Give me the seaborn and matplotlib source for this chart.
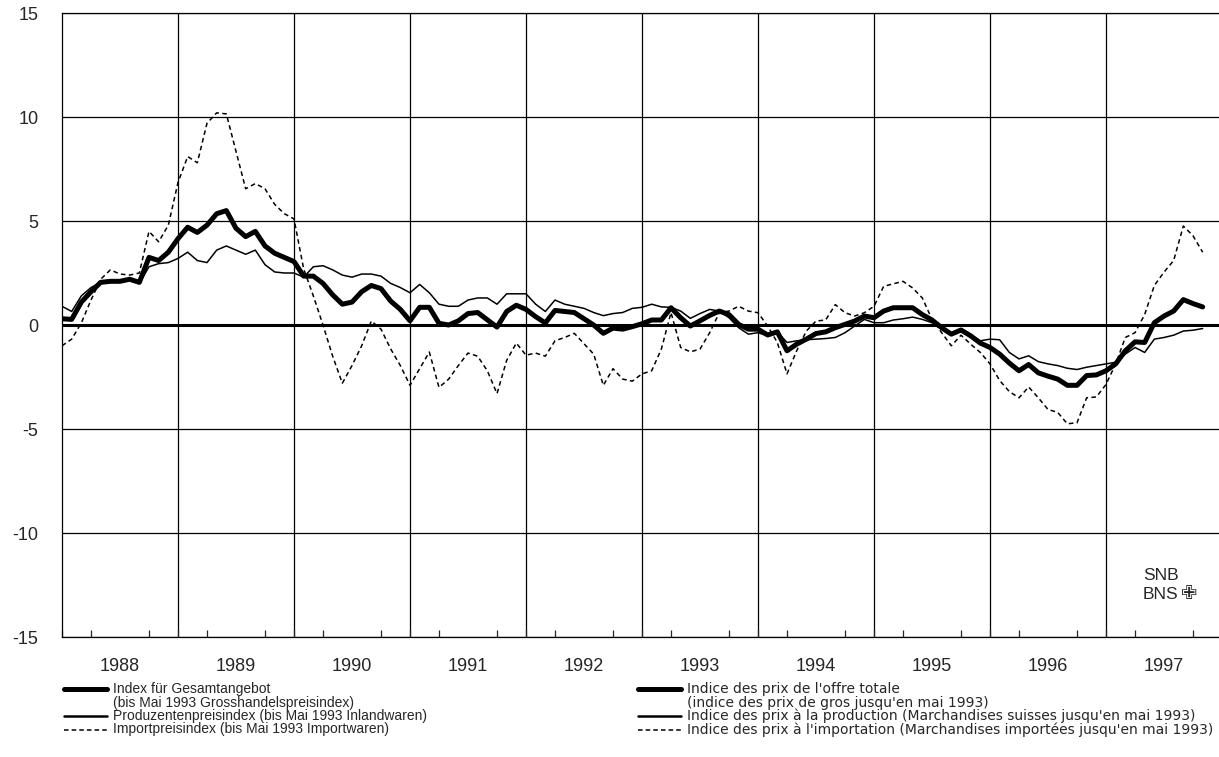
import numpy as np
import pandas as pd
import matplotlib
matplotlib.use("Agg")
import matplotlib.pyplot as plt
import seaborn as sns
from matplotlib.lines import Line2D

# monthly year-on-year changes in %, Jan 1988 .. Nov 1997
gesamtangebot = [
    0.30, 0.27, 1.1, 1.6, 2.05, 2.1, 2.1, 2.2, 2.05, 3.25, 3.1, 3.5,
    4.15, 4.7, 4.45, 4.8, 5.35, 5.5, 4.65, 4.25, 4.5, 3.8, 3.45, 3.25,
    3.05, 2.35, 2.35, 2.0, 1.45, 1.0, 1.1, 1.6, 1.9, 1.75, 1.15, 0.75,
    0.2, 0.85, 0.85, 0.08, 0.0, 0.2, 0.55, 0.6, 0.25, -0.1, 0.65, 0.95,
    0.75, 0.4, 0.1, 0.7, 0.65, 0.6, 0.3, 0.0, -0.4, -0.15, -0.2, -0.08,
    0.06, 0.24, 0.24, 0.83, 0.35, -0.05, 0.2, 0.46, 0.67, 0.5, 0.03, -0.2,
    -0.2, -0.48, -0.33, -1.24, -0.92, -0.68, -0.41, -0.33, -0.13, 0.03, 0.19, 0.43,
    0.35, 0.67, 0.83, 0.83, 0.83, 0.5, 0.24, -0.13, -0.44, -0.24, -0.52, -0.87,
    -1.08, -1.4, -1.83, -2.2, -1.9, -2.3, -2.46, -2.6, -2.9, -2.9, -2.43, -2.4,
    -2.2, -1.87, -1.24, -0.81, -0.84, 0.11, 0.43, 0.67, 1.22, 1.03, 0.87,
]
produzenten = [
    0.9, 0.65, 1.4, 1.8, 2.05, 2.05, 2.1, 2.2, 2.0, 2.8, 2.95, 3.0,
    3.2, 3.5, 3.1, 3.0, 3.6, 3.8, 3.6, 3.4, 3.6, 2.9, 2.55, 2.5,
    2.5, 2.3, 2.8, 2.85, 2.65, 2.4, 2.3, 2.45, 2.45, 2.35, 2.0, 1.8,
    1.55, 1.95, 1.55, 1.0, 0.9, 0.9, 1.2, 1.3, 1.3, 1.0, 1.5, 1.5,
    1.5, 1.0, 0.65, 1.2, 1.0, 0.9, 0.8, 0.6, 0.45, 0.55, 0.6, 0.8,
    0.85, 1.0, 0.87, 0.85, 0.67, 0.32, 0.55, 0.75, 0.67, 0.35, -0.13, -0.44,
    -0.37, -0.52, -0.33, -0.84, -0.76, -0.71, -0.68, -0.65, -0.6, -0.37, -0.05, 0.27,
    0.11, 0.11, 0.24, 0.3, 0.38, 0.27, 0.11, -0.17, -0.37, -0.25, -0.48, -0.76,
    -0.68, -0.71, -1.32, -1.63, -1.48, -1.76, -1.87, -1.95, -2.08, -2.14, -2.03, -1.95,
    -1.87, -1.79, -1.4, -1.08, -1.32, -0.68, -0.6, -0.49, -0.29, -0.25, -0.17,
]
import_idx = [
    -1.0, -0.68, 0.1, 1.2, 2.2, 2.65, 2.45, 2.4, 2.5, 4.5, 4.0, 4.8,
    6.85, 8.1, 7.8, 9.7, 10.2, 10.15, 8.35, 6.55, 6.8, 6.55, 5.8, 5.35,
    5.1, 2.7, 1.4, 0.0, -1.5, -2.8, -1.95, -1.0, 0.19, -0.2, -1.15, -1.95,
    -2.9, -2.1, -1.3, -3.0, -2.6, -1.95, -1.35, -1.5, -2.2, -3.3, -1.7, -0.87,
    -1.45, -1.35, -1.5, -0.76, -0.6, -0.4, -0.9, -1.4, -2.9, -2.1, -2.6, -2.7,
    -2.35, -2.2, -1.16, 0.6, -1.08, -1.29, -1.16, -0.37, 0.59, 0.67, 0.9, 0.67,
    0.59, -0.05, -0.84, -2.35, -1.24, -0.29, 0.19, 0.24, 0.98, 0.59, 0.43, 0.59,
    0.9, 1.86, 1.98, 2.1, 1.78, 1.3, 0.27, -0.37, -1.0, -0.49, -0.92, -1.32,
    -1.87, -2.67, -3.2, -3.5, -2.98, -3.5, -4.06, -4.2, -4.75, -4.7, -3.5, -3.46,
    -2.86, -1.87, -0.6, -0.37, 0.5, 1.9, 2.54, 3.1, 4.76, 4.29, 3.5,
]
years = list(range(1988, 1998))
y_ticks = [-15, -10, -5, 0, 5, 10, 15]

legend_de = [
    "Index für Gesamtangebot",
    "(bis Mai 1993 Grosshandelspreisindex)",
    "Produzentenpreisindex (bis Mai 1993 Inlandwaren)",
    "Importpreisindex (bis Mai 1993 Importwaren)",
]
legend_fr = [
    "Indice des prix de l'offre totale",
    "(indice des prix de gros jusqu'en mai 1993)",
    "Indice des prix à la production (Marchandises suisses jusqu'en mai 1993)",
    "Indice des prix à l'importation (Marchandises importées jusqu'en mai 1993)",
]

dates = 1988 + np.arange(len(gesamtangebot)) / 12
df = pd.DataFrame({"t": dates, "gesamt": gesamtangebot,
                   "prod": produzenten, "imp": import_idx})

sns.set_style("white")
plt.rcParams["font.family"] = ["Liberation Sans", "DejaVu Sans"]

W, H = 1219, 757
fig = plt.figure(figsize=(W / 100, H / 100), dpi=100)
# axes runs to Jan 1998, a bit past the right edge of the page (as in the scan)
ax = fig.add_axes([62 / W, 1 - 637 / H, (1222 - 62) / W, (637 - 13) / H])

sns.lineplot(data=df, x="t", y="imp", ax=ax, color="black", lw=1.1,
             linestyle=(0, (3, 2.2)))
sns.lineplot(data=df, x="t", y="prod", ax=ax, color="black", lw=1.1)
sns.lineplot(data=df, x="t", y="gesamt", ax=ax, color="black", lw=3.6)

ax.set_xlim(1988, 1998)
ax.set_ylim(-15, 15)
ax.set_xlabel("")
ax.set_ylabel("")

# grid
for yv in y_ticks:
    ax.axhline(yv, color="black", lw=0.9, zorder=0)
ax.axhline(0, color="black", lw=2.2, zorder=1)
for yr in years[1:]:
    ax.axvline(yr, color="black", lw=0.9, zorder=0)

ax.set_yticks(y_ticks)
ax.set_yticklabels([str(v) for v in y_ticks])
ax.set_xticks([y + 0.5 for y in years])
ax.set_xticklabels([str(y) for y in years])
ax.set_xticks(np.arange(1988, 1998.01, 0.25), minor=True)
ax.tick_params(axis="x", which="major", length=0, pad=15, labelsize=13)
ax.tick_params(axis="x", which="minor", direction="in", length=5, width=0.9,
               bottom=True, top=False)
ax.tick_params(axis="y", length=0, pad=17, labelsize=13)

for side in ["left", "bottom", "top"]:
    ax.spines[side].set_visible(True)
    ax.spines[side].set_color("black")
    ax.spines[side].set_linewidth(0.9)
ax.spines["right"].set_visible(False)

# SNB logo text
ax.text(1997.32, -12.04, "SNB", fontsize=12.5, va="center", ha="left")
ax.text(1997.32, -12.96, "BNS", fontsize=12.5, va="center", ha="left")
ax.text(1997.72, -12.93, "\u2719", fontsize=14, va="center", ha="center",
        family="DejaVu Sans")

# legend, drawn by hand
rows = [689, 702.5, 716, 729.5]
styles = [dict(lw=3.6), None, dict(lw=1.8), dict(lw=1.1, linestyle=(0, (3, 2)))]

def draw_legend(x0, texts, family, size):
    for r, txt, st in zip(rows, texts, styles):
        yf = 1 - r / H
        if st is not None:
            fig.add_artist(Line2D([x0 / W, (x0 + 43) / W], [yf, yf],
                                  color="black", **st))
        fig.text((x0 + 49) / W, yf, txt, fontsize=size, va="center", ha="left",
                 family=family)

draw_legend(64, legend_de, ["Liberation Sans", "DejaVu Sans"], 10)
draw_legend(638, legend_fr, ["DejaVu Sans"], 10)

fig.savefig("out.png", dpi=100)
